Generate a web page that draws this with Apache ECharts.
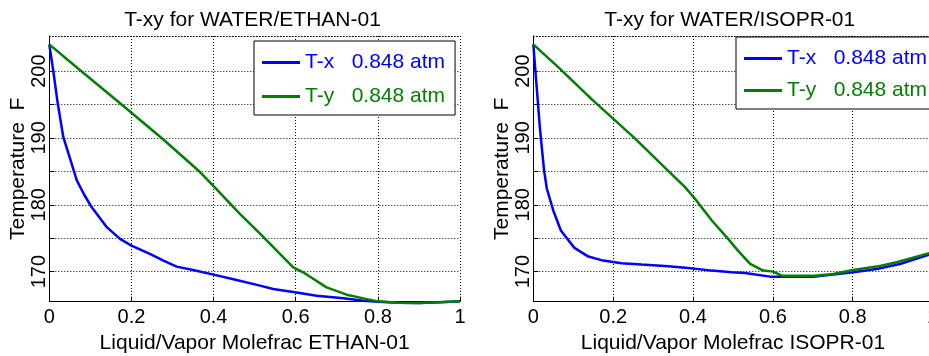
<!DOCTYPE html>
<html>
<head>
<meta charset="utf-8">
<title>T-xy WATER/ETHAN-01, WATER/ISOPR-01</title>
<script src="https://cdn.jsdelivr.net/npm/echarts@6/dist/echarts.min.js"></script>
<style>
  html, body { margin: 0; padding: 0; background: #fff; }
  #chart { width: 929px; height: 356px; }
</style>
</head>
<body>
<div id="chart"></div>
<script>
// WATER / ETHAN-01 at 0.848 atm (x = molefrac ETHAN-01, T in F)
var ethanLiqX = [0, 0.01, 0.02, 0.034, 0.05, 0.067, 0.085, 0.103, 0.14, 0.172, 0.2, 0.245, 0.278, 0.31, 0.35, 0.4, 0.456, 0.513, 0.545, 0.598, 0.651, 0.716, 0.765, 0.8, 0.85, 0.9, 0.95, 1]
var ethanLiqT = [204.0, 199.9, 195.4, 190.15, 187.0, 183.65, 181.5, 179.65, 176.65, 174.9, 173.9, 172.65, 171.65, 170.75, 170.25, 169.55, 168.75, 167.9, 167.4, 166.9, 166.4, 166.0, 165.65, 165.5, 165.35, 165.3, 165.4, 165.55]
var ethanVapX = [0, 0.07, 0.176, 0.277, 0.367, 0.4, 0.464, 0.513, 0.537, 0.594, 0.618, 0.675, 0.724, 0.765, 0.8, 0.85, 0.9, 0.95, 1]
var ethanVapT = [204.0, 200.4, 195.0, 189.8, 184.9, 182.8, 178.65, 175.7, 174.2, 170.65, 169.9, 167.65, 166.55, 166.0, 165.55, 165.35, 165.3, 165.4, 165.55]

// WATER / ISOPR-01 at 0.848 atm
var isoprLiqX = [0, 0.017, 0.027, 0.034, 0.05, 0.069, 0.103, 0.138, 0.175, 0.221, 0.271, 0.338, 0.388, 0.447, 0.497, 0.53, 0.593, 0.635, 0.701, 0.751, 0.801, 0.86, 0.918, 1]
var isoprLiqT = [204.0, 191.15, 185.15, 182.4, 179.15, 176.15, 173.55, 172.25, 171.65, 171.25, 171.05, 170.8, 170.55, 170.15, 169.9, 169.8, 169.25, 169.25, 169.25, 169.55, 169.9, 170.4, 171.15, 172.7]
var isoprVapX = [0, 0.063, 0.146, 0.255, 0.334, 0.38, 0.405, 0.447, 0.488, 0.513, 0.543, 0.576, 0.601, 0.622, 0.705, 0.751, 0.801, 0.86, 0.91, 1]
var isoprVapT = [204.0, 200.55, 195.8, 189.9, 185.3, 182.65, 180.9, 177.65, 174.9, 173.1, 171.15, 170.15, 170.0, 169.4, 169.4, 169.65, 170.25, 170.75, 171.4, 172.9]

var yTicks = [170, 175, 180, 185, 190, 195, 200]
var yLabels = [170, 180, 190, 200]
var titles = ['T-xy for WATER/ETHAN-01', 'T-xy for WATER/ISOPR-01']
var xNames = ['Liquid/Vapor Molefrac ETHAN-01', 'Liquid/Vapor Molefrac ISOPR-01']
var TX = 'T-x   0.848 atm'
var TY = 'T-y   0.848 atm'

var BLUE = '#0000ff'
var GREEN = '#008000'
var FONT = '"Liberation Sans", Arial, Helvetica, sans-serif'
var dotted = { color: '#000', width: 1, type: [1, 2] }

function pairs(xs, ts) {
  return xs.map(function(x, i) { return [x, ts[i]] })
}

// the right plot runs a few px past the page edge, like the original
var grids = [
  { left: 49.3, top: 36, width: 410.7, height: 265.7, outerBoundsMode: 'none' },
  { left: 533.3, top: 36, width: 399.3, height: 265.7, outerBoundsMode: 'none' }
]

var xAxes = []
var yAxes = []
grids.forEach(function(g, i) {
  xAxes.push({
    gridIndex: i, type: 'value', min: 0, max: 1, interval: 0.2, position: 'bottom',
    name: xNames[i], nameLocation: 'middle', nameGap: 30,
    nameTextStyle: { fontSize: 21, color: '#000', fontFamily: FONT },
    axisLine: { show: true, onZero: false, lineStyle: { color: '#000', width: 1 }},
    axisTick: { show: true, inside: true, length: 5, lineStyle: { color: '#000' }},
    axisLabel: { fontSize: 20, color: '#000', margin: 6, fontFamily: FONT, hideOverlap: false },
    splitLine: { show: true, lineStyle: dotted }
  })
  // dotted box edge on top
  xAxes.push({
    gridIndex: i, type: 'value', min: 0, max: 1, position: 'top',
    axisLine: { show: true, onZero: false, lineStyle: dotted },
    axisTick: { show: false }, axisLabel: { show: false }, splitLine: { show: false }
  })
  yAxes.push({
    gridIndex: i, type: 'value', min: 165.5, max: 205.25, position: 'left',
    name: 'Temperature  F', nameLocation: 'middle', nameGap: 21,
    nameTextStyle: { fontSize: 21, color: '#000', fontFamily: FONT },
    axisLine: { show: true, onZero: false, lineStyle: { color: '#000', width: 1 }},
    axisTick: { show: true, inside: true, length: 5, customValues: yTicks, lineStyle: { color: '#000' }},
    axisLabel: { rotate: 90, margin: 0, customValues: yLabels, fontSize: 20, color: '#000', fontFamily: FONT },
    splitLine: { show: true, lineStyle: dotted }
  })
})

function curve(name, xi, yi, data, color) {
  return {
    name: name, type: 'line', xAxisIndex: xi, yAxisIndex: yi, data: data,
    symbol: 'none', showSymbol: false, clip: false,
    lineStyle: { color: color, width: 2.5 },
    itemStyle: { color: color }
  }
}

function legendAt(left, top, gap, padRight) {
  return {
    orient: 'vertical', left: left, top: top, selectedMode: false,
    data: [
      { name: TX, icon: 'rect', itemStyle: { color: BLUE }, textStyle: { color: BLUE }},
      { name: TY, icon: 'rect', itemStyle: { color: GREEN }, textStyle: { color: GREEN }}
    ],
    itemWidth: 38, itemHeight: 3, itemGap: gap,
    padding: [11, padRight, 8, 8],
    borderColor: '#000', borderWidth: 1, borderRadius: 0,
    backgroundColor: '#fff',
    textStyle: { fontSize: 21, fontFamily: FONT },
    z: 10
  }
}

var chart = echarts.init(document.getElementById('chart'))
chart.setOption({
  animation: false,
  backgroundColor: '#fff',
  grid: grids,
  xAxis: xAxes,
  yAxis: yAxes,
  legend: [legendAt(254, 41, 13, 10), legendAt(736, 37, 11, 18)],
  graphic: [
    { type: 'text', x: 252.5, y: 20, style: { text: titles[0], font: '21px ' + FONT, fill: '#000', align: 'center', verticalAlign: 'middle' }},
    { type: 'text', x: 729.8, y: 20, style: { text: titles[1], font: '21px ' + FONT, fill: '#000', align: 'center', verticalAlign: 'middle' }}
  ],
  series: [
    curve(TX, 0, 0, pairs(ethanLiqX, ethanLiqT), BLUE),
    curve(TY, 0, 0, pairs(ethanVapX, ethanVapT), GREEN),
    curve(TX, 2, 1, pairs(isoprLiqX, isoprLiqT), BLUE),
    curve(TY, 2, 1, pairs(isoprVapX, isoprVapT), GREEN)
  ]
})
</script>
</body>
</html>
